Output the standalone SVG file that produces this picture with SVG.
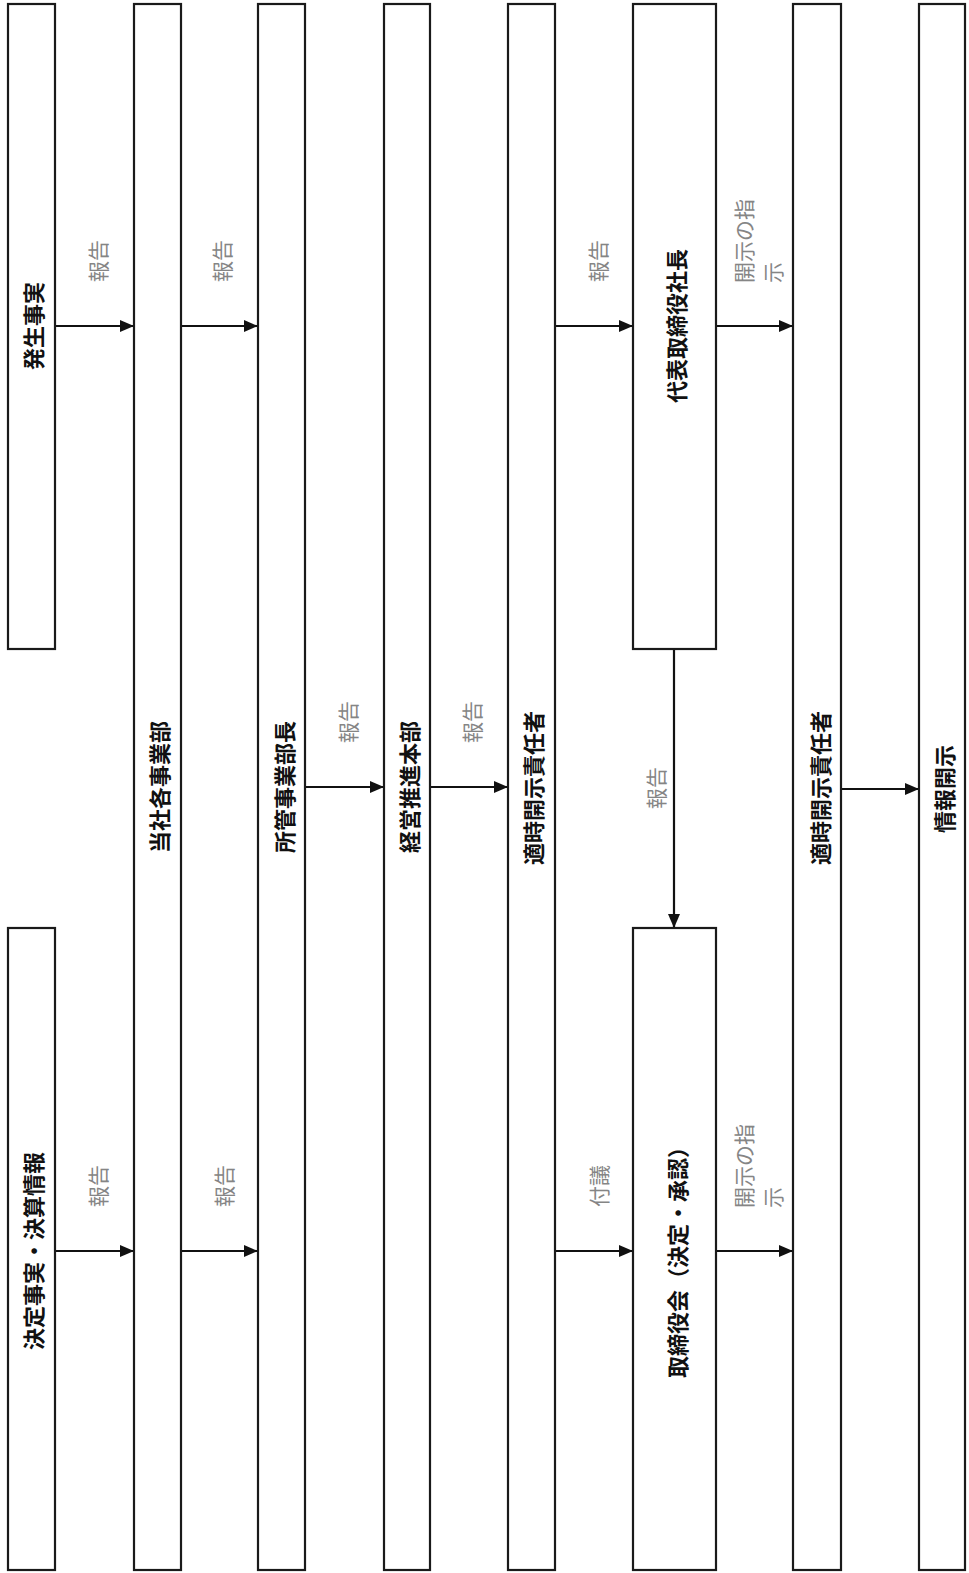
<svg xmlns="http://www.w3.org/2000/svg" width="969" height="1573" viewBox="0 0 969 1573">
<style>
.box{fill:#fff;stroke:#1a1a1a;stroke-width:2.2}
.nl{font-family:"Noto Sans CJK JP","Noto Sans CJK SC",sans-serif;font-size:22px;font-weight:bold;fill:#111;text-anchor:middle;dominant-baseline:central}
.el{font-family:"Noto Sans CJK JP","Noto Sans CJK SC",sans-serif;font-size:21px;fill:#858585;text-anchor:start;dominant-baseline:central}
.ar{stroke:#111;stroke-width:2.2;fill:none;marker-end:url(#ah)}
</style>
<defs>
<marker id="ah" markerUnits="userSpaceOnUse" markerWidth="14" markerHeight="12" refX="13" refY="6" orient="auto">
<path d="M0,0 L14,6 L0,12 z" fill="#111"/>
</marker>
</defs>
<rect width="969" height="1573" fill="#fff"/>
<g id="n1"><rect class="box" x="8" y="4" width="47" height="645"/><text class="nl" transform="translate(32,326) rotate(-90)">発生事実</text></g>
<g id="n2"><rect class="box" x="134" y="4" width="47" height="1566"/><text class="nl" transform="translate(158,787) rotate(-90)">当社各事業部</text></g>
<g id="n3"><rect class="box" x="258" y="4" width="47" height="1566"/><text class="nl" transform="translate(283,787) rotate(-90)">所管事業部長</text></g>
<g id="n4"><rect class="box" x="384" y="4" width="46" height="1566"/><text class="nl" transform="translate(408,787) rotate(-90)">経営推進本部</text></g>
<g id="n5"><rect class="box" x="508" y="4" width="47" height="1566"/><text class="nl" transform="translate(532,788) rotate(-90)">適時開示責任者</text></g>
<g id="n6"><rect class="box" x="633" y="4" width="83" height="645"/><text class="nl" transform="translate(675,326) rotate(-90)">代表取締役社長</text></g>
<g id="n7"><rect class="box" x="793" y="4" width="48" height="1566"/><text class="nl" transform="translate(819,788) rotate(-90)">適時開示責任者</text></g>
<g id="n8"><rect class="box" x="919" y="4" width="46" height="1566"/><text class="nl" transform="translate(943,789) rotate(-90)">情報開示</text></g>
<g id="n9"><rect class="box" x="8" y="928" width="47" height="642"/><text class="nl" transform="translate(32,1251) rotate(-90)">決定事実・決算情報</text></g>
<g id="n10"><rect class="box" x="633" y="928" width="83" height="642"/><text class="nl" transform="translate(676,1257) rotate(-90)">取締役会（決定・承認）</text></g>
<g id="connectors">
<line class="ar" x1="56" y1="326" x2="133" y2="326"/>
<line class="ar" x1="182" y1="326" x2="257" y2="326"/>
<line class="ar" x1="556" y1="326" x2="632" y2="326"/>
<line class="ar" x1="717" y1="326" x2="792" y2="326"/>
<line class="ar" x1="306" y1="787" x2="383" y2="787"/>
<line class="ar" x1="431" y1="787" x2="507" y2="787"/>
<line class="ar" x1="842" y1="789" x2="918" y2="789"/>
<line class="ar" x1="674" y1="650" x2="674" y2="927"/>
<line class="ar" x1="56" y1="1251" x2="133" y2="1251"/>
<line class="ar" x1="182" y1="1251" x2="257" y2="1251"/>
<line class="ar" x1="556" y1="1251" x2="632" y2="1251"/>
<line class="ar" x1="717" y1="1251" x2="792" y2="1251"/>
<text class="el" transform="translate(97,282) rotate(-90)">報告</text>
<text class="el" transform="translate(221,282) rotate(-90)">報告</text>
<text class="el" transform="translate(597,282) rotate(-90)">報告</text>
<text class="el" transform="translate(743,283) rotate(-90)"><tspan x="0" y="0">開示の指</tspan><tspan x="0" y="29">示</tspan></text>
<text class="el" transform="translate(347,743) rotate(-90)">報告</text>
<text class="el" transform="translate(471,743) rotate(-90)">報告</text>
<text class="el" transform="translate(655,809) rotate(-90)">報告</text>
<text class="el" transform="translate(97,1207) rotate(-90)">報告</text>
<text class="el" transform="translate(223,1207) rotate(-90)">報告</text>
<text class="el" transform="translate(598,1207) rotate(-90)">付議</text>
<text class="el" transform="translate(743,1208) rotate(-90)"><tspan x="0" y="0">開示の指</tspan><tspan x="0" y="29">示</tspan></text>
</g>
</svg>
